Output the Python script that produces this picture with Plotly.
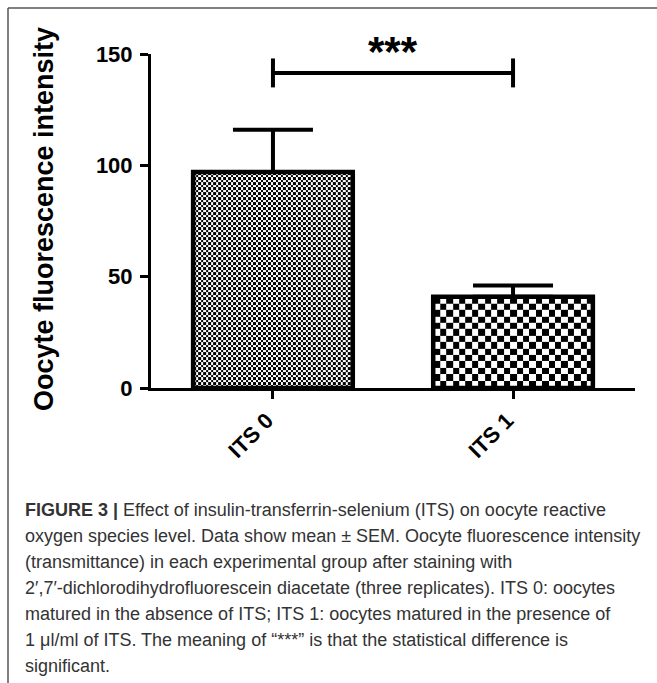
import base64
import struct
import zlib
import plotly.graph_objects as go

# ---------------- data ----------------
categories = ["ITS 0", "ITS 1"]
mean_values = [97.0, 41.0]
sem_values = [19.0, 5.0]
y_ticks = [0, 50, 100, 150]
sig_label = "***"
bracket_level = 141.5
bracket_drop = 6.5
y_title = "Oocyte fluorescence intensity"
caption_lines = [
    "<b>FIGURE 3 |</b> Effect of insulin-transferrin-selenium (ITS) on oocyte reactive",
    "oxygen species level. Data show mean \u00b1 SEM. Oocyte fluorescence intensity",
    "(transmittance) in each experimental group after staining with",
    "2\u2032,7\u2032-dichlorodihydrofluorescein diacetate (three replicates). ITS 0: oocytes",
    "matured in the absence of ITS; ITS 1: oocytes matured in the presence of",
    "1 \u03bcl/ml of ITS. The meaning of \u201c***\u201d is that the statistical difference is",
    "significant.",
]

# ---------------- layout geometry ----------------
W, H = 657, 683
ML, MR, MT, MB = 151, 22, 54, 295
PW, PH = W - ML - MR, H - MT - MB
X_RANGE = [-0.508, 1.508]
Y_RANGE = [0, 150]
BAR_W = 0.665
CHECK_SIZES = [2.5, 6.4]


def px_x(px):
    return (px - ML) / PW


def px_y(py):
    return (H - MB - py) / PH


def checker_png(w, h, s):
    rows = []
    for j in range(h):
        row = bytearray([0])
        for i in range(w):
            row.append(0 if (int(i / s) + int(j / s)) % 2 == 0 else 255)
        rows.append(bytes(row))
    raw = b"".join(rows)

    def chunk(t, d):
        return struct.pack(">I", len(d)) + t + d + struct.pack(">I", zlib.crc32(t + d) & 0xFFFFFFFF)

    ihdr = struct.pack(">IIBBBBB", w, h, 8, 0, 0, 0, 0)
    data = b"\x89PNG\r\n\x1a\n" + chunk(b"IHDR", ihdr) + chunk(b"IDAT", zlib.compress(raw)) + chunk(b"IEND", b"")
    return "data:image/png;base64," + base64.b64encode(data).decode()


fig = go.Figure()
fig.add_trace(go.Bar(
    x=list(range(len(categories))),
    y=mean_values,
    width=BAR_W,
    marker=dict(color="rgba(0,0,0,0)", line=dict(color="black", width=4.5)),
    error_y=dict(type="data", symmetric=False, array=sem_values,
                 arrayminus=[0] * len(sem_values), color="black", thickness=4, width=40),
    showlegend=False,
    hoverinfo="skip",
))

# checkerboard fills of bars (image texture placed in data coordinates)
xpx_per_unit = PW / (X_RANGE[1] - X_RANGE[0])
ypx_per_unit = PH / (Y_RANGE[1] - Y_RANGE[0])
images = []
for i, v in enumerate(mean_values):
    wpx = max(1, int(round(BAR_W * xpx_per_unit)))
    hpx = max(1, int(round(v * ypx_per_unit)))
    images.append(dict(
        source=checker_png(wpx, hpx, CHECK_SIZES[i]),
        xref="x", yref="y", x=i - BAR_W / 2, y=v, sizex=BAR_W, sizey=v,
        xanchor="left", yanchor="top", sizing="stretch", layer="below",
    ))

shapes = []
# significance bracket
shapes.append(dict(type="line", xref="x", yref="y", x0=0, x1=1, y0=bracket_level, y1=bracket_level,
                   line=dict(color="black", width=4)))
for xb in (0, 1):
    shapes.append(dict(type="line", xref="x", yref="y", x0=xb, x1=xb,
                       y0=bracket_level - bracket_drop, y1=bracket_level + bracket_drop,
                       line=dict(color="black", width=4)))
# frame lines
frame_col = "#555555"
shapes.append(dict(type="line", xref="paper", yref="paper", x0=px_x(8), x1=px_x(W), y0=px_y(8), y1=px_y(8),
                   line=dict(color=frame_col, width=1.5)))
shapes.append(dict(type="line", xref="paper", yref="paper", x0=px_x(8), x1=px_x(8), y0=px_y(8), y1=px_y(H),
                   line=dict(color=frame_col, width=1.5)))

annotations = []
annotations.append(dict(text=sig_label, xref="x", yref="paper", x=0.5, y=px_y(51), showarrow=False,
                        xanchor="center", yanchor="middle",
                        font=dict(family="Liberation Sans, Arial", size=42, color="black", weight="bold")))
annotations.append(dict(text=y_title, xref="paper", yref="paper", x=px_x(44), y=px_y(219), textangle=-90,
                        showarrow=False, xanchor="center", yanchor="middle",
                        font=dict(family="Liberation Sans, Arial", size=27, color="black", weight="bold")))
for k, line in enumerate(caption_lines):
    annotations.append(dict(text=line, xref="paper", yref="paper", x=px_x(23), y=px_y(510 + 26 * k),
                            showarrow=False, xanchor="left", yanchor="middle", align="left",
                            font=dict(family="Liberation Sans, Arial", size=18, color="#333333")))

fig.update_layout(
    width=W, height=H,
    margin=dict(l=ML, r=MR, t=MT, b=MB, pad=0),
    paper_bgcolor="white", plot_bgcolor="rgba(0,0,0,0)",
    images=images, shapes=shapes, annotations=annotations,
    xaxis=dict(range=X_RANGE, tickmode="array", tickvals=list(range(len(categories))), ticktext=categories,
               tickangle=-45, ticks="outside", ticklen=8, tickwidth=3, tickcolor="black",
               ticklabelshift=-6,
               showline=True, linewidth=3, linecolor="black", showgrid=False, zeroline=False,
               tickfont=dict(family="Liberation Sans, Arial", size=22, color="black", weight="bold")),
    yaxis=dict(range=Y_RANGE, tickmode="array", tickvals=y_ticks, ticks="outside", ticklen=8, tickwidth=3,
               tickcolor="black", showline=True, linewidth=3, linecolor="black", showgrid=False,
               zeroline=False, ticklabelstandoff=3,
               tickfont=dict(family="Liberation Sans, Arial", size=22, color="black", weight="bold")),
)

fig.write_html("out.html", config={"displayModeBar": False},
               post_script="document.body.style.margin='0';")
